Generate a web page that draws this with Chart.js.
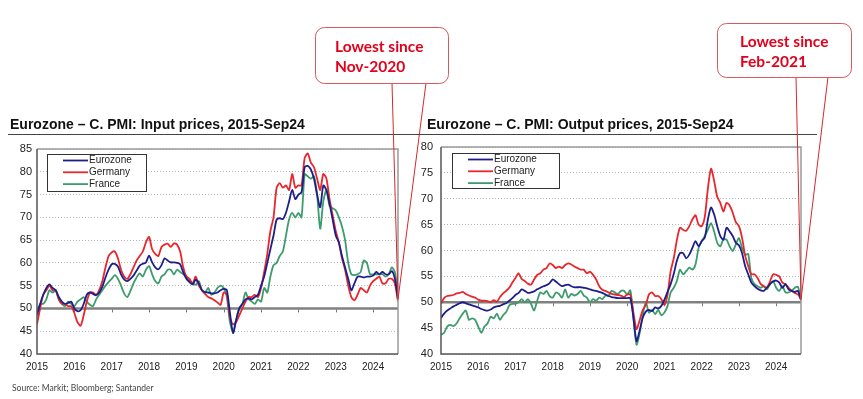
<!DOCTYPE html>
<html>
<head>
<meta charset="utf-8">
<script src="https://cdn.jsdelivr.net/npm/chart.js@4.4.0/dist/chart.umd.min.js"></script>
<style>
  body { margin: 0; background: #fff; width: 863px; height: 399px; overflow: hidden; position: relative; }
  canvas { position: absolute; top: 0; }
  #inputChart { left: 0; }
  #outputChart { left: 415px; }
</style>
</head>
<body>
<canvas id="inputChart" width="460" height="399"></canvas>
<canvas id="outputChart" width="448" height="399"></canvas>
<script>
// monthly values, Jan 2015 - Sep 2024
const years = ['2015', '2016', '2017', '2018', '2019', '2020', '2021', '2022', '2023', '2024'];
const seriesNames = ['Eurozone', 'Germany', 'France'];

const inputEZ = [
  48.5, 51, 53, 54.5, 55.3, 54.5, 54, 52.5, 51.5, 51, 51.2, 51.5,
  50, 49.4, 49.6, 51, 53, 53.5, 53.2, 52.9, 53.5, 54.8, 56.8, 58.5,
  59.7, 59.8, 59.2, 57.5, 56.4, 56, 56.5, 57.2, 58.3, 59.4, 59.8, 60.1,
  61.6, 60.1, 59, 58.6, 59.5, 61, 60.5, 60.1, 60.1, 60, 59.7, 57.9,
  56.5, 55.8, 55.3, 56.3, 55.5, 54, 53.6, 53.5, 53.3, 53.3, 53.5, 54,
  54.3, 54, 49, 44.6, 47.5, 50, 51, 52, 52.2, 52, 52.5, 53,
  55, 57, 60, 63, 66, 69.5, 69.8, 69.6, 71, 73.5, 76, 74,
  75, 75.5, 81, 81.3, 80.5, 78.5, 75, 72.2, 77, 76, 73, 69.5,
  66, 64.5, 61.5, 59, 56.5, 54, 55.5, 57, 57, 56.8, 57, 57,
  57.2, 58, 57.5, 58, 57.5, 57.5, 58.2, 56.5, 52
];
const inputDE = [
  46.5, 50, 53, 54, 55, 54, 54, 52, 51, 51, 50.5, 50.5,
  49, 47, 46.2, 48.5, 51.5, 53.5, 53.5, 53, 54, 56, 59, 61.5,
  62.3, 62.5, 61, 58.5, 57, 56.5, 57.5, 59, 60.5, 61.5, 62.5, 64.5,
  65.7, 63, 62, 61.5, 63.5, 64, 64.2, 63.5, 64.3, 64, 62.5, 59,
  57, 56.5, 55.5, 57, 55, 54, 53.2, 52.5, 52.2, 51.8, 51.3, 50.8,
  53.5, 53, 48, 46.5, 47, 48.5, 50, 51.5, 52.5, 52.5, 53, 52.5,
  54.5, 58, 62, 67, 70, 76.5, 77.5, 76.5, 77, 76, 79.5, 76.5,
  77, 77, 83, 84, 82, 81, 78.5, 76, 79.5, 78.5, 74, 70.5,
  67, 64.5, 61, 58.5, 55, 52.5, 51.8, 53, 54.5, 54, 53.5, 55,
  56, 56.5, 57, 55.5, 55.5, 56.5, 56.5, 55.5, 51.5
];
const inputFR = [
  49, 51, 51, 52, 54, 53.5, 54, 52, 51, 50.5, 51.5, 51,
  50.5, 51.5, 52, 52.5, 51.5, 50.8, 50.5, 52, 53, 54, 55, 55.8,
  56.5, 57.3, 56.5, 55, 53.3, 52.5, 53.8, 55.5, 56.8, 57.7, 57, 58.5,
  59.3, 57.5, 56, 55.5, 57, 57.5, 58.5, 58.5, 57.5, 58.5, 58, 57.5,
  57, 56, 55.5, 55.2, 56, 54, 53.5, 54.5, 53, 53.5, 54.5, 55,
  54.5, 52.5, 47, 44.8, 47.5, 50, 51, 53.5, 52, 51.5, 51, 52,
  51.5, 54.5, 53.5, 57, 59.5, 60, 61.5, 62.5, 66, 69.5, 71, 70,
  71, 70, 79.5, 79, 78.5, 79, 75, 67.5, 73.5, 76, 72.5, 72,
  71.5, 70, 68, 65, 60, 57.5, 57.3, 57.5, 58, 60.5, 60, 57.5,
  57.5, 57.5, 57.5, 57.5, 57, 57.5, 59, 58, 53
];

const outputEZ = [
  47, 47.8, 48.4, 48.8, 49.2, 49.5, 49.8, 50, 49.8, 49.6, 49.4, 49.2,
  49, 48.7, 48.5, 48.4, 48.6, 49, 49.2, 49.3, 49.6, 49.8, 50.3, 50.8,
  51.4, 51.8, 52.5, 52.2, 51.8, 51.9, 52.1, 52.5, 52.8, 53.1, 53.3, 53.7,
  54.4, 54, 53.5, 53.1, 53.3, 53.4, 53.1, 52.9, 52.9, 52.9, 52.8, 52.7,
  52.5, 52.3, 52.2, 52, 51.8, 51.5, 51.2, 51, 50.9, 50.8, 50.8, 50.8,
  50.8, 50.8, 47, 42.5, 44.5, 47, 48.2, 48.5, 48.3, 49, 48.8, 49.3,
  50.5, 52, 53.5, 55.5, 58, 59.5, 59.5, 58.5, 59.2, 60.5, 61.8, 60.8,
  61.8, 62.5, 66, 68.3, 67, 64.7, 62.8, 62.1, 64.4, 63.7, 62.8, 61.5,
  61, 59.5, 57, 55.4, 53.8, 53.1, 52.6, 52.3, 52.2, 52.8, 53.5, 54,
  54.2, 53.8, 52.8, 53.5, 52.5, 52.2, 52, 52.2, 50.5
];
const outputDE = [
  49.7, 50.8, 51.2, 51.3, 51.4, 51.7, 51.8, 52, 51.6, 51.3, 51.1, 50.9,
  50.5, 50.3, 50.3, 50.2, 50, 50.4, 50.1, 51, 51.7, 52.2, 52.8, 53.8,
  54.7, 55.6, 54.5, 54.1, 53.6, 53.4, 54.4, 55.3, 55.6, 56.3, 56.6, 57.5,
  57.2, 56.6, 56.9, 56.6, 57.2, 57.5, 57.3, 56.9, 56.6, 56.3, 56.3, 55.6,
  55.9, 55.3, 54.4, 53.1, 52.4, 52.2, 51.9, 51.6, 51.5, 51.4, 51.3, 51,
  51.5, 51.5, 48, 44.8, 46.5, 48.5, 49.5, 51.5, 51.9, 51.2, 51.2, 50.6,
  49.5, 51.5, 56, 58.5, 62, 64.4, 64, 63.8, 64.7, 66, 66.8, 65,
  64.7, 66.5, 72, 75.8, 73.5, 70.4, 69.2, 67.5, 69.2, 68.7, 67.3, 65.5,
  64.7, 62.5, 59, 57, 55.4, 55.4, 54.7, 53.5, 53.1, 52.8, 54, 55.4,
  55.3, 55, 53.8, 53.5, 52.8, 52.2, 51.8, 51.5, 50.6
];
const outputFR = [
  43.7, 44.1, 45.3, 45.6, 45.4, 45.9, 46.9, 47.8, 48.4, 46.6, 46.9, 46.6,
  45.3, 44.1, 45.3, 45.9, 47.2, 46.9, 47.8, 46.6, 47.5, 48.1, 49.4, 49.7,
  49.7, 50, 50.6, 50, 50.6, 49.7, 48.4, 50.3, 51.9, 51.6, 52.2, 51.2,
  50.9, 51.9, 51.6, 50.9, 52.5, 50.9, 51.6, 51.3, 51.6, 52.2, 51.3, 50.9,
  50, 50.6, 50.3, 50.9, 50.6, 51.3, 51.3, 52.2, 51.9, 51.6, 52.2, 52.2,
  51.5, 52.3, 47, 41.8, 44, 47.5, 50, 48, 48.5, 47.7, 48.5, 47.5,
  48, 49.3, 51.9, 52.8, 54.1, 56.3, 55.4, 56, 56.7, 56.3, 57.3, 60.5,
  61.8, 62.8, 64, 65.3, 63.7, 61.5, 60.8, 62.1, 62.1, 60.8, 59.9, 61.2,
  62.4, 60.5, 59.2, 59.3, 54.7, 53.5, 53.1, 52.8, 53.1, 52.5, 53.5, 54.1,
  52.8, 52.2, 53.1, 51.9, 51.9, 52.2, 52.8, 53, 50.3
];

const colors = ['#1c1f8a', '#e8262c', '#3d9b6e'];
const FONT = 'Arial, "Liberation Sans", sans-serif';
const RED = '#e3001b';

function toPoints(values) {
  return values.map((v, i) => ({ x: i, y: v }));
}

function decorPlugin(cfg) {
  return {
    id: 'decor',
    beforeDatasetsDraw(chart) {
      const { ctx, chartArea: a, scales: { x, y } } = chart;
      const y50 = y.getPixelForValue(50);
      ctx.save();
      ctx.strokeStyle = '#808080';
      ctx.lineWidth = 2.5;
      ctx.beginPath();
      ctx.moveTo(a.left, y50);
      ctx.lineTo(a.right, y50);
      ctx.stroke();
      ctx.lineWidth = 1;
      ctx.strokeStyle = '#777';
      for (let m = 12; m <= 108; m += 12) {
        const px = Math.round(x.getPixelForValue(m)) + 0.5;
        ctx.beginPath();
        ctx.moveTo(px, y50 + 1);
        ctx.lineTo(px, y50 + 4);
        ctx.stroke();
      }
      ctx.restore();
    },
    afterDraw(chart) {
      const { ctx, chartArea: a } = chart;
      ctx.save();

      // plot frame
      ctx.lineWidth = 1.5;
      ctx.strokeStyle = '#9a9a9a';
      ctx.beginPath();
      ctx.moveTo(a.left, a.top);
      ctx.lineTo(a.right, a.top);
      ctx.lineTo(a.right, a.bottom);
      ctx.stroke();
      ctx.strokeStyle = '#555';
      ctx.beginPath();
      ctx.moveTo(a.left, a.top);
      ctx.lineTo(a.left, a.bottom);
      ctx.lineTo(a.right, a.bottom);
      ctx.stroke();

      // legend
      const lg = cfg.legend;
      ctx.fillStyle = '#fff';
      ctx.fillRect(lg.x, lg.y, lg.w, lg.h);
      ctx.lineWidth = 1;
      ctx.strokeStyle = '#333';
      ctx.strokeRect(lg.x + 0.5, lg.y + 0.5, lg.w, lg.h);
      ctx.font = `10px ${FONT}`;
      ctx.textBaseline = 'middle';
      seriesNames.forEach((name, i) => {
        const ly = lg.y + 6.5 + i * 11.8;
        ctx.strokeStyle = colors[i];
        ctx.lineWidth = 1.8;
        ctx.beginPath();
        ctx.moveTo(lg.x + 16, ly);
        ctx.lineTo(lg.x + 41, ly);
        ctx.stroke();
        ctx.fillStyle = '#222';
        ctx.fillText(name, lg.x + 42, ly);
      });

      // title and rule
      ctx.textBaseline = 'alphabetic';
      ctx.fillStyle = '#111';
      ctx.font = `bold 14px ${FONT}`;
      ctx.fillText(cfg.title, cfg.titleX, 129);
      ctx.strokeStyle = '#444';
      ctx.lineWidth = 1;
      ctx.beginPath();
      ctx.moveTo(cfg.ruleFrom, 134.5);
      ctx.lineTo(cfg.ruleTo, 134.5);
      ctx.stroke();

      // callout
      const c = cfg.callout;
      const meta = chart.getDatasetMeta(0);
      const end = meta.data[meta.data.length - 1];
      ctx.strokeStyle = '#d8262c';
      ctx.lineWidth = 1;
      ctx.beginPath();
      ctx.moveTo(c.tail[0], c.y + c.h);
      ctx.lineTo(end.x, end.y);
      ctx.lineTo(c.tail[1], c.y + c.h);
      ctx.stroke();
      ctx.fillStyle = '#fff';
      ctx.strokeStyle = '#d9585c';
      ctx.beginPath();
      ctx.roundRect(c.x + 0.5, c.y + 0.5, c.w, c.h, 9);
      ctx.fill();
      ctx.stroke();
      ctx.fillStyle = RED;
      ctx.font = 'bold 15.5px Lato, "Open Sans", sans-serif';
      c.lines.forEach((t, i) => ctx.fillText(t, c.textX, c.textY + i * 19.5));

      if (cfg.source) {
        ctx.fillStyle = '#444';
        ctx.font = '8.5px Lato, "Open Sans", sans-serif';
        ctx.fillText(cfg.source, 12, 391);
      }
      ctx.restore();
    }
  };
}

function makeChart(id, sets, cfg) {
  const ctx = document.getElementById(id).getContext('2d');
  return new Chart(ctx, {
    type: 'line',
    data: {
      datasets: sets.map((values, i) => ({
        label: seriesNames[i],
        data: toPoints(values),
        borderColor: colors[i],
        borderWidth: 1.8,
        pointRadius: 0,
        tension: 0.25,
        fill: false
      }))
    },
    options: {
      responsive: false,
      animation: false,
      devicePixelRatio: 1,
      layout: { padding: { left: 0, top: cfg.top, right: cfg.right, bottom: 0 } },
      plugins: { legend: { display: false }, tooltip: { enabled: false } },
      scales: {
        x: {
          type: 'linear',
          min: 0,
          max: 116,
          grid: { display: false, drawTicks: false },
          border: { display: false },
          ticks: {
            stepSize: 12,
            includeBounds: false,
            autoSkip: false,
            maxRotation: 0,
            padding: 7,
            color: '#222',
            font: { family: FONT, size: 10 },
            callback: v => years[v / 12] ?? ''
          },
          afterFit: s => { s.height = 45; }
        },
        y: {
          min: 40,
          max: cfg.yMax,
          grid: {
            color: c => c.tick.value === 50 ? 'rgba(0,0,0,0)' : '#b5b5b5',
            drawTicks: false,
            lineWidth: 1
          },
          border: { display: false, dash: [1, 2] },
          ticks: {
            stepSize: 5,
            padding: cfg.yPad,
            color: '#222',
            font: { family: FONT, size: 11 }
          },
          afterFit: s => { s.width = cfg.yWidth; }
        }
      }
    },
    plugins: [decorPlugin(cfg)]
  });
}

window.addEventListener('DOMContentLoaded', () => {
  makeChart('inputChart', [inputEZ, inputDE, inputFR], {
    top: 149, right: 62, yMax: 85, yWidth: 37, yPad: 5,
    title: 'Eurozone \u2013 C. PMI: Input prices, 2015-Sep24', titleX: 10,
    ruleFrom: 8, ruleTo: 460,
    legend: { x: 47, y: 154, w: 99, h: 37 },
    callout: { x: 315, y: 27, w: 133, h: 56, tail: [392, 426], textX: 335, textY: 52, lines: ['Lowest since', 'Nov-2020'] },
    source: 'Source: Markit; Bloomberg; Santander'
  });
  makeChart('outputChart', [outputEZ, outputDE, outputFR], {
    top: 147, right: 62, yMax: 80, yWidth: 26, yPad: 8,
    title: 'Eurozone \u2013 C. PMI: Output prices, 2015-Sep24', titleX: 12,
    ruleFrom: 0, ruleTo: 402,
    legend: { x: 37, y: 153, w: 107, h: 35 },
    callout: { x: 302, y: 23, w: 134, h: 54, tail: [381, 413], textX: 325, textY: 47, lines: ['Lowest since', 'Feb-2021'] }
  });
});
</script>
</body>
</html>
